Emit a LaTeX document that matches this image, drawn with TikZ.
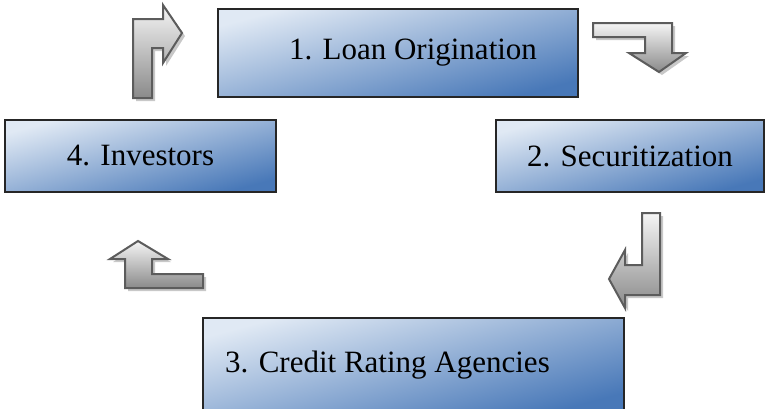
\documentclass[tikz,border=0pt]{standalone}
\usepackage{fontspec}
\setmainfont{Liberation Serif}
\usepackage{tikz}
\usetikzlibrary{positioning}
\usepackage{xcolor}
\definecolor{boxlight}{HTML}{E0E9F4}
\definecolor{boxdark}{HTML}{4878B8}
\definecolor{arrowedge}{HTML}{5C5C5C}
\definecolor{arrowlow}{HTML}{8A8A8A}
\definecolor{arrowshade}{HTML}{C8C8C8}

\begin{document}
\begin{tikzpicture}[
    x=1pt, y=-1pt,
    stagebox/.style={rectangle, draw=black!85, line width=1.4pt,
                     top color=boxlight, bottom color=boxdark, shading angle=15,
                     minimum height=72pt, inner sep=0pt,
                     font=\fontsize{31}{36}\selectfont, text=black},
    barrow/.style={draw=arrowedge, line width=2pt, line join=miter,
                   top color=white!96!black, bottom color=arrowlow,
                   preaction={fill=arrowshade, transform canvas={shift={(3pt,-3pt)}}}},
  ]
    \useasboundingbox (0,0) rectangle (769,408);

    \node[stagebox, minimum width=360pt, minimum height=88pt] (orig) at (398,53)
        {\hspace*{30pt}1. Loan Origination};
    \node[stagebox, minimum width=268pt] (secur) at (630,156) {2. Securitization};
    \node[stagebox, minimum width=271pt] (invest) at (140.5,156) {4. Investors};
    \node[stagebox, minimum width=421pt, minimum height=94pt] (rating) at (413.5,365)
        {3. Credit Rating Agencies\hspace*{52pt}};

    % bent arrows round the cycle
    \draw[barrow] (593,23) -- (672,23) -- (672,53) -- (686,53) -- (659,72)
        -- (629,53) -- (645,53) -- (645,37) -- (593,37) -- cycle;
    \draw[barrow] (642,213) -- (660,213) -- (660,295) -- (625,295) -- (625,308)
        -- (609,279) -- (625,250) -- (625,265) -- (642,265) -- cycle;
    \draw[barrow] (203,274) -- (203,288) -- (125,288) -- (125,259) -- (110,259)
        -- (138,241) -- (168,259) -- (152,259) -- (152,274) -- cycle;
    \draw[barrow] (133,98) -- (133,19) -- (163,19) -- (163,5) -- (182,33)
        -- (163,63) -- (163,48) -- (152,48) -- (152,98) -- cycle;
\end{tikzpicture}
\end{document}
